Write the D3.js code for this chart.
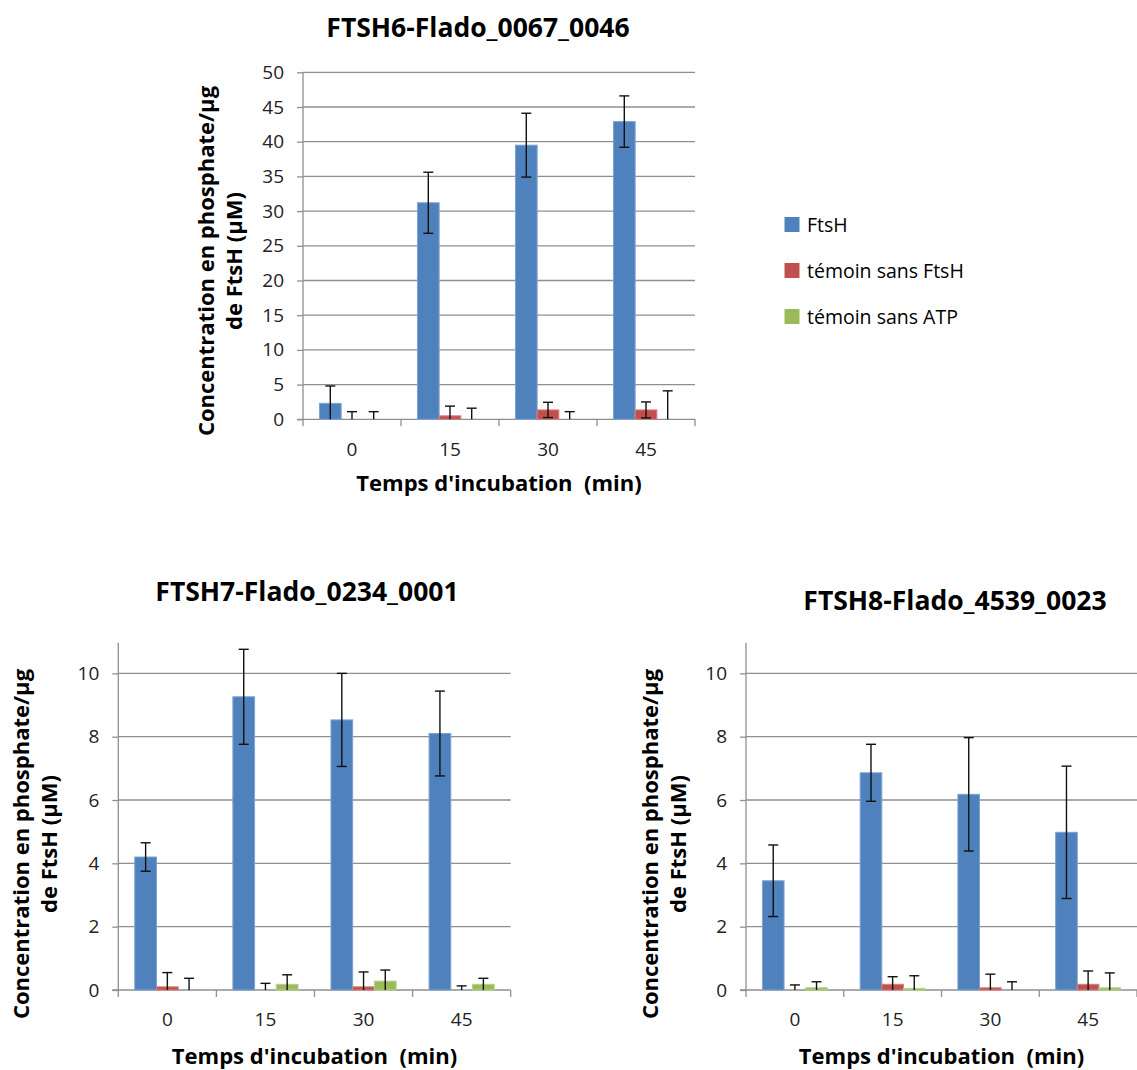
<!DOCTYPE html>
<html><head><meta charset="utf-8">
<script src="https://cdn.jsdelivr.net/npm/d3@7"></script>
<style>
body{margin:0;background:#fff;}
svg text{font-family:"Open Sans",Lato,sans-serif;}
</style></head>
<body><svg id="c" width="1137" height="1070"></svg>
<script>
const categories = ["0","15","30","45"];
const seriesNames = ["FtsH","témoin sans FtsH","témoin sans ATP"];
const seriesColors = ["#4F81BD","#C0504D","#9BBB59"];
const seriesStroke = ["#7EA3D3","#D67F7D","#B8D18A"];

// FTSH6
const ftsh6_FtsH = [2.3, 31.2, 39.5, 42.9];
const ftsh6_FtsH_err = [2.5, 4.4, 4.6, 3.7];
const ftsh6_noFtsH = [0, 0.5, 1.35, 1.35];
const ftsh6_noFtsH_err = [1.1, 1.4, 1.1, 1.15];
const ftsh6_noATP = [0, 0, 0, 0];
const ftsh6_noATP_err = [1.1, 1.6, 1.1, 4.1];
const ftsh6_ticks = [0,5,10,15,20,25,30,35,40,45,50];

// FTSH7
const ftsh7_FtsH = [4.2, 9.26, 8.53, 8.1];
const ftsh7_FtsH_err = [0.45, 1.5, 1.47, 1.34];
const ftsh7_noFtsH = [0.1, 0, 0.1, 0];
const ftsh7_noFtsH_err = [0.45, 0.21, 0.47, 0.13];
const ftsh7_noATP = [0, 0.18, 0.28, 0.18];
const ftsh7_noATP_err = [0.37, 0.3, 0.35, 0.19];
const ftsh7_ticks = [0,2,4,6,8,10];

// FTSH8
const ftsh8_FtsH = [3.45, 6.86, 6.18, 4.98];
const ftsh8_FtsH_err = [1.13, 0.9, 1.79, 2.09];
const ftsh8_noFtsH = [0, 0.18, 0.07, 0.18];
const ftsh8_noFtsH_err = [0.16, 0.24, 0.43, 0.42];
const ftsh8_noATP = [0.07, 0.05, 0, 0.07];
const ftsh8_noATP_err = [0.19, 0.4, 0.26, 0.47];
const ftsh8_ticks = [0,2,4,6,8,10];

const titles = ["FTSH6-Flado_0067_0046","FTSH7-Flado_0234_0001","FTSH8-Flado_4539_0023"];
const yTitle1 = "Concentration en phosphate/µg";
const yTitle2 = "de FtsH (µM)";
const xTitle = "Temps d'incubation\u00a0 (min)";

const svg = d3.select("#c");
const GRID = "#8f8f8f";

function chart(cfg){
  const g = svg.append("g");
  const x = d3.scaleBand().domain(categories).range([cfg.x0, cfg.x1]).paddingInner(0).paddingOuter(0);
  const xs = d3.scaleBand().domain(d3.range(3)).range([0, x.bandwidth()]).paddingInner(0).paddingOuter(0.758);
  const y = d3.scaleLinear().domain([0, cfg.ymax]).range([cfg.yb, cfg.yt]);
  // gridlines
  g.append("g").selectAll("line").data(cfg.ticks.filter(t=>t>0)).join("line")
    .attr("x1", cfg.x0).attr("x2", cfg.x1)
    .attr("y1", d=>y(d)).attr("y2", d=>y(d))
    .attr("stroke",GRID).attr("stroke-width",1.3);
  // y axis
  const ya = d3.axisLeft(y).tickValues(cfg.ticks).tickSize(6).tickPadding(13).tickFormat(d3.format("d"));
  const yag = g.append("g").attr("transform",`translate(${cfg.x0},0)`).call(ya);
  yag.select(".domain").attr("stroke",GRID).attr("stroke-width",1.3).attr("d",`M-6,${cfg.yb}H0V${cfg.ytop}`);
  yag.selectAll(".tick line").attr("stroke",GRID).attr("stroke-width",1.3);
  yag.selectAll(".tick text").attr("font-size",19).attr("fill","#222");
  // x axis
  const xa = d3.axisBottom(x).tickSize(0).tickPadding(23);
  const xag = g.append("g").attr("transform",`translate(0,${cfg.yb})`).call(xa);
  xag.select(".domain").attr("stroke",GRID).attr("stroke-width",1.3).attr("d",`M${cfg.x0},0H${cfg.x1}`);
  xag.selectAll(".tick text").attr("font-size",19).attr("fill","#222");
  const bounds = categories.map(c=>x(c)).concat([cfg.x1]);
  xag.append("g").selectAll("line").data(bounds).join("line")
    .attr("x1",d=>d).attr("x2",d=>d).attr("y1",0).attr("y2",7)
    .attr("stroke",GRID).attr("stroke-width",1.3);
  // bars
  cfg.series.forEach((s, si)=>{
    const gg = g.append("g");
    gg.selectAll("rect").data(s.v).join("rect")
      .attr("x",(d,i)=>x(categories[i])+xs(si))
      .attr("width",xs.bandwidth())
      .attr("y",d=>y(d))
      .attr("height",d=>Math.max(0,y(0)-y(d)))
      .attr("fill",seriesColors[si])
      .attr("stroke",d=>d>0?seriesStroke[si]:"none").attr("stroke-width",1);
  });
  cfg.series.forEach((s, si)=>{
    const eg = g.append("g");
    s.v.forEach((v,i)=>{
      const cx = x(categories[i])+xs(si)+xs.bandwidth()/2;
      const hi = v + s.e[i], lo = Math.max(0, v - s.e[i]);
      eg.append("line").attr("x1",cx).attr("x2",cx).attr("y1",y(hi)).attr("y2",y(lo))
        .attr("stroke","#111").attr("stroke-width",1.4);
      eg.append("line").attr("x1",cx-5).attr("x2",cx+5).attr("y1",y(hi)).attr("y2",y(hi))
        .attr("stroke","#111").attr("stroke-width",1.4);
      if (v - s.e[i] > 0)
        eg.append("line").attr("x1",cx-5).attr("x2",cx+5).attr("y1",y(lo)).attr("y2",y(lo))
          .attr("stroke","#111").attr("stroke-width",1.4);
    });
  });
  // titles
  g.append("text").attr("x",cfg.tx).attr("y",cfg.ty).attr("text-anchor","middle")
    .attr("font-size",26.5).attr("font-weight","bold").attr("fill","#000").text(cfg.title);
  const yt = g.append("text").attr("transform",`translate(${cfg.ytx},${cfg.yty}) rotate(-90)`)
    .attr("text-anchor","middle").attr("font-size",22).attr("font-weight","bold").attr("fill","#000");
  yt.append("tspan").attr("x",0).attr("dy",0).text(yTitle1);
  yt.append("tspan").attr("x",0).attr("dy",28).text(yTitle2);
  g.append("text").attr("x",(cfg.x0+cfg.x1)/2).attr("y",cfg.xty).attr("text-anchor","middle")
    .attr("font-size",22).attr("font-weight","bold").attr("fill","#000").text(xTitle);
}

chart({x0:303,x1:695,yb:419.3,yt:72.3,ytop:72.3,ymax:50,ticks:ftsh6_ticks,
  title:titles[0],tx:478,ty:37,ytx:214,yty:261,xty:491,
  series:[{v:ftsh6_FtsH,e:ftsh6_FtsH_err},{v:ftsh6_noFtsH,e:ftsh6_noFtsH_err},{v:ftsh6_noATP,e:ftsh6_noATP_err}]});
chart({x0:118.3,x1:510.7,yb:990,yt:641.7,ytop:642.7,ymax:11,ticks:ftsh7_ticks,
  title:titles[1],tx:307,ty:601,ytx:29,yty:844,xty:1064,
  series:[{v:ftsh7_FtsH,e:ftsh7_FtsH_err},{v:ftsh7_noFtsH,e:ftsh7_noFtsH_err},{v:ftsh7_noATP,e:ftsh7_noATP_err}]});
chart({x0:746,x1:1137,yb:990,yt:641.7,ytop:642.7,ymax:11,ticks:ftsh8_ticks,
  title:titles[2],tx:955,ty:610,ytx:658,yty:844,xty:1064,
  series:[{v:ftsh8_FtsH,e:ftsh8_FtsH_err},{v:ftsh8_noFtsH,e:ftsh8_noFtsH_err},{v:ftsh8_noATP,e:ftsh8_noATP_err}]});

// legend
const lg = svg.append("g");
lg.selectAll("rect").data(seriesNames).join("rect")
  .attr("x",784.5).attr("y",(d,i)=>217+i*46).attr("width",15).attr("height",15)
  .attr("fill",(d,i)=>seriesColors[i]);
lg.selectAll("text").data(seriesNames).join("text")
  .attr("x",807).attr("y",(d,i)=>232+i*46).attr("font-size",19.5).attr("fill","#000").text(d=>d);
</script></body></html>
